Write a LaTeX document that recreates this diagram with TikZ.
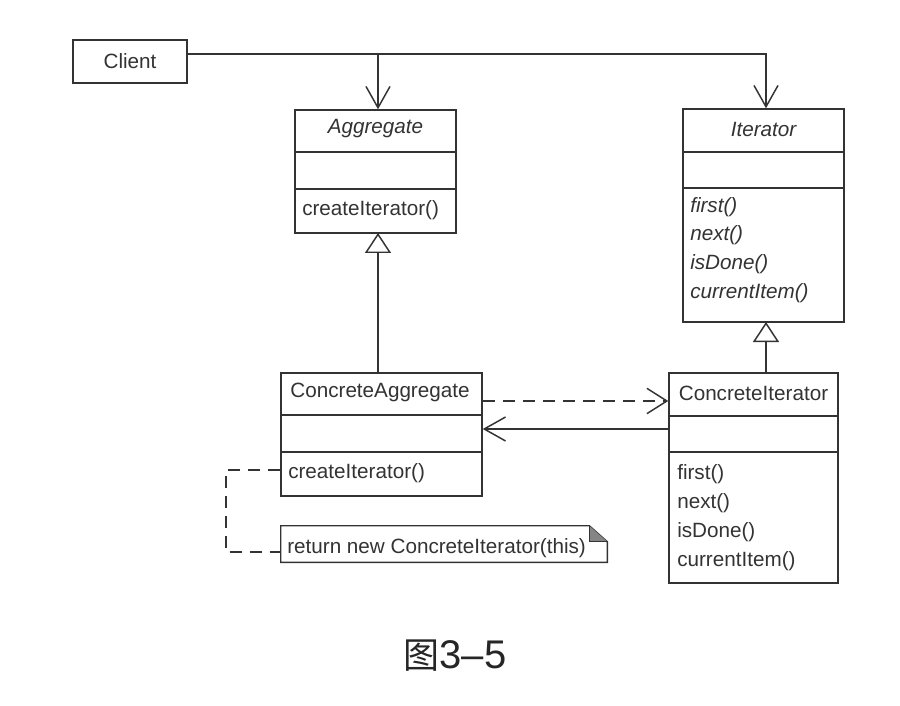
\documentclass[tikz,border=0pt]{standalone}
\usepackage{fontspec}
\setmainfont{Liberation Sans}
\newfontfamily\cjk{Noto Sans CJK SC}
\usetikzlibrary{arrows.meta,fit,calc}
\definecolor{ink}{HTML}{333333}
\begin{document}
\begin{tikzpicture}[x=0.75pt,y=-0.75pt,
  cls/.style={draw=ink,line width=1.1pt,inner sep=0pt,fill=white},
  divider/.style={draw=ink,line width=2pt},
  txt/.style={text=ink,font=\fontsize{15.5pt}{18pt}\selectfont,inner sep=0pt},
  itxt/.style={text=ink,font=\fontsize{15.5pt}{18pt}\selectfont\itshape,inner sep=0pt},
  meth/.style={txt,anchor=west},
  imeth/.style={itxt,anchor=west},
  assoc/.style={draw=ink,line width=1.1pt,-{Straight Barb[length=16pt,width=18pt,line width=1.1pt]}},
  dep/.style={draw=ink,line width=1.1pt,dash pattern=on 9pt off 6pt,-{Straight Barb[length=15pt,width=19pt,line width=1.1pt]}},
  inherit/.style={draw=ink,line width=1.1pt,-{Triangle[open,length=15pt,width=19.5pt,line width=1.1pt,fill=white]}},
  notelink/.style={draw=ink,line width=1.1pt,dash pattern=on 9pt off 6pt}]
\useasboundingbox[fill=white] (0,0) rectangle (900,706);

% Client
\node[cls,fit={(73,40) (187,83)}] (client) {};
\node[txt] (clientname) at (client.center) {Client};

% Aggregate
\node[cls,fit={(295,110) (456,233)}] (agg) {};
\draw[divider] (agg.west |- 0,152) -- (agg.east |- 0,152);
\draw[divider] (agg.west |- 0,189) -- (agg.east |- 0,189);
\node[itxt] (aggname) at (375.5,129) {Aggregate};
\node[meth] (aggm1) at (302,210) {createIterator()};

% Iterator
\node[cls,fit={(683,109) (844,322)}] (it) {};
\draw[divider] (it.west |- 0,152) -- (it.east |- 0,152);
\draw[divider] (it.west |- 0,188) -- (it.east |- 0,188);
\node[itxt] (itname) at (763.5,129) {Iterator};
\node[imeth] (itm1) at (690,207) {first()};
\node[imeth] (itm2) at (690,235) {next()};
\node[imeth] (itm3) at (690,264) {isDone()};
\node[imeth] (itm4) at (690,293) {currentItem()};

% ConcreteAggregate
\node[cls,fit={(281,373) (482,496)}] (ca) {};
\draw[divider] (ca.west |- 0,415) -- (ca.east |- 0,415);
\draw[divider] (ca.west |- 0,452) -- (ca.east |- 0,452);
\node[txt] (caname) at (380,392) {ConcreteAggregate};
\node[meth] (cam1) at (288,473) {createIterator()};

% ConcreteIterator
\node[cls,fit={(669,373) (838,583)}] (ci) {};
\draw[divider] (ci.west |- 0,416) -- (ci.east |- 0,416);
\draw[divider] (ci.west |- 0,452) -- (ci.east |- 0,452);
\node[txt] (ciname) at (753.5,393) {ConcreteIterator};
\node[meth] (cim1) at (677,474) {first()};
\node[meth] (cim2) at (677,503) {next()};
\node[meth] (cim3) at (677,532) {isDone()};
\node[meth] (cim4) at (677,561) {currentItem()};

% Note
\node[inner sep=0pt,fit={(281,526) (607,562)}] (note) {};
\draw[ink,line width=1.1pt,fill=white] (note.south west) -- (note.north west) -- ($(note.north east)+(-18,0)$) -- ($(note.north east)+(0,16)$) -- (note.south east) -- cycle;
\fill[ink!60] ($(note.north east)+(-18,0)$) -- ($(note.north east)+(-18,16)$) -- ($(note.north east)+(0,16)$) -- cycle;
\draw[ink,line width=1.1pt] ($(note.north east)+(-18,0)$) -- ($(note.north east)+(-18,16)$) -- ($(note.north east)+(0,16)$);
\node[meth] (notetext) at (287,548) {return new ConcreteIterator(this)};

% Connectors
\coordinate (aggIn) at (378,233);
\coordinate (itIn) at (766,322);
\coordinate (bus) at (0,54);
\draw[assoc] (client.east |- bus) -| (itIn |- it.north);
\draw[assoc] (aggIn |- bus) -- (aggIn |- agg.north);
\draw[inherit] (aggIn |- ca.north) -- (aggIn);
\draw[inherit] (itIn |- ci.north) -- (itIn);
\draw[dep] (ca.east |- 0,401) -- (ci.west |- 0,401);
\draw[assoc] (ci.west |- 0,429) -- (ca.east |- 0,429);
\draw[notelink] (ca.west |- 0,470) -- (226,470) -- (226,552) -- (note.west |- 0,552);

% Caption
\node[text=black!85,inner sep=0pt,anchor=base] (caption) at (455,668) {{\cjk\fontsize{27pt}{30pt}\selectfont 图}{\fontsize{30pt}{34pt}\selectfont 3–5}};
\end{tikzpicture}
\end{document}
